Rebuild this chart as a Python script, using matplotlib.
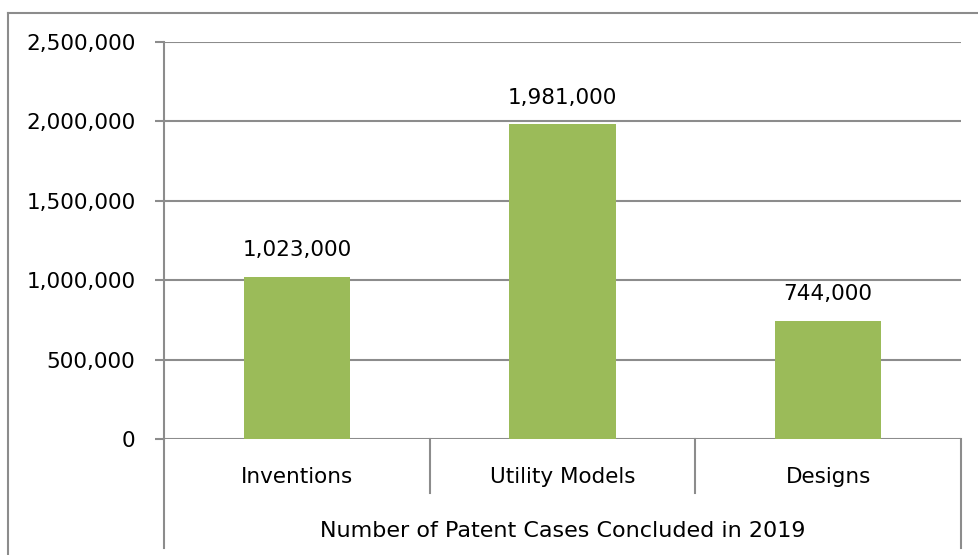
import matplotlib
matplotlib.use("Agg")
import matplotlib.pyplot as plt
from matplotlib.lines import Line2D
from matplotlib.ticker import FuncFormatter
import matplotlib.transforms as mtransforms

categories = ["Inventions", "Utility Models", "Designs"]
values = [1023000, 1981000, 744000]
group_label = "Number of Patent Cases Concluded in 2019"
yticks = [0, 500000, 1000000, 1500000, 2000000, 2500000]

plt.rcParams['font.family'] = ['DejaVu Sans']
FS = 15.5
W, H = 979, 555
fig = plt.figure(figsize=(W / 100, H / 100), dpi=100)
ax = fig.add_axes([164 / W, (H - 439) / H, (961 - 164) / W, (439 - 42) / H])

gray = "#8c8c8c"
x = list(range(len(categories)))
ax.bar(x, values, width=0.40, color="#9bbb59", zorder=3)
ax.set_xlim(-0.5, len(categories) - 0.5)
ax.set_ylim(0, 2500000)
ax.set_yticks(yticks)
ax.yaxis.set_major_formatter(FuncFormatter(lambda v, p: f"{int(v):,}"))
ax.grid(axis="y", color=gray, linewidth=1.5, zorder=0)
for s in ["top", "right", "bottom"]:
    ax.spines[s].set_visible(False)
ax.spines["left"].set_color(gray)
ax.spines["left"].set_linewidth(1.5)
ax.tick_params(axis="y", direction="out", length=6.5, width=1.5, color=gray,
               labelsize=FS, pad=14)
ax.tick_params(axis="x", length=0, labelbottom=False)

for xi, v in zip(x, values):
    ax.annotate(f"{v:,}", (xi, v), xytext=(0, 12), textcoords="offset points",
                ha="center", va="bottom", fontsize=FS)

trans = mtransforms.blended_transform_factory(ax.transData, ax.transAxes)
px = 1.0 / (439 - 42)
# left axis extension and right outer line
for xv in [-0.5, len(categories) - 0.5]:
    ax.add_line(Line2D([xv, xv], [0, -(548 - 439) * px], transform=trans,
                       color=gray, lw=1.5, clip_on=False))
# category separators
for xv in [0.5, 1.5]:
    ax.add_line(Line2D([xv, xv], [0, -(493 - 439) * px], transform=trans,
                       color=gray, lw=1.5, clip_on=False))
for xi, c in zip(x, categories):
    ax.text(xi, -(477 - 439) * px, c, transform=trans, ha="center", va="center",
            fontsize=FS)
ax.text((len(categories) - 1) / 2, -(531 - 439) * px, group_label, transform=trans,
        ha="center", va="center", fontsize=16)

# outer chart border (top and left only visible)
fig.add_artist(Line2D([8 / W, 1.0], [1 - 13 / H, 1 - 13 / H], transform=fig.transFigure,
                      color=gray, lw=1.5))
fig.add_artist(Line2D([8 / W, 8 / W], [0, 1 - 13 / H], transform=fig.transFigure,
                      color=gray, lw=1.5))

fig.savefig("out.png", dpi=100)
